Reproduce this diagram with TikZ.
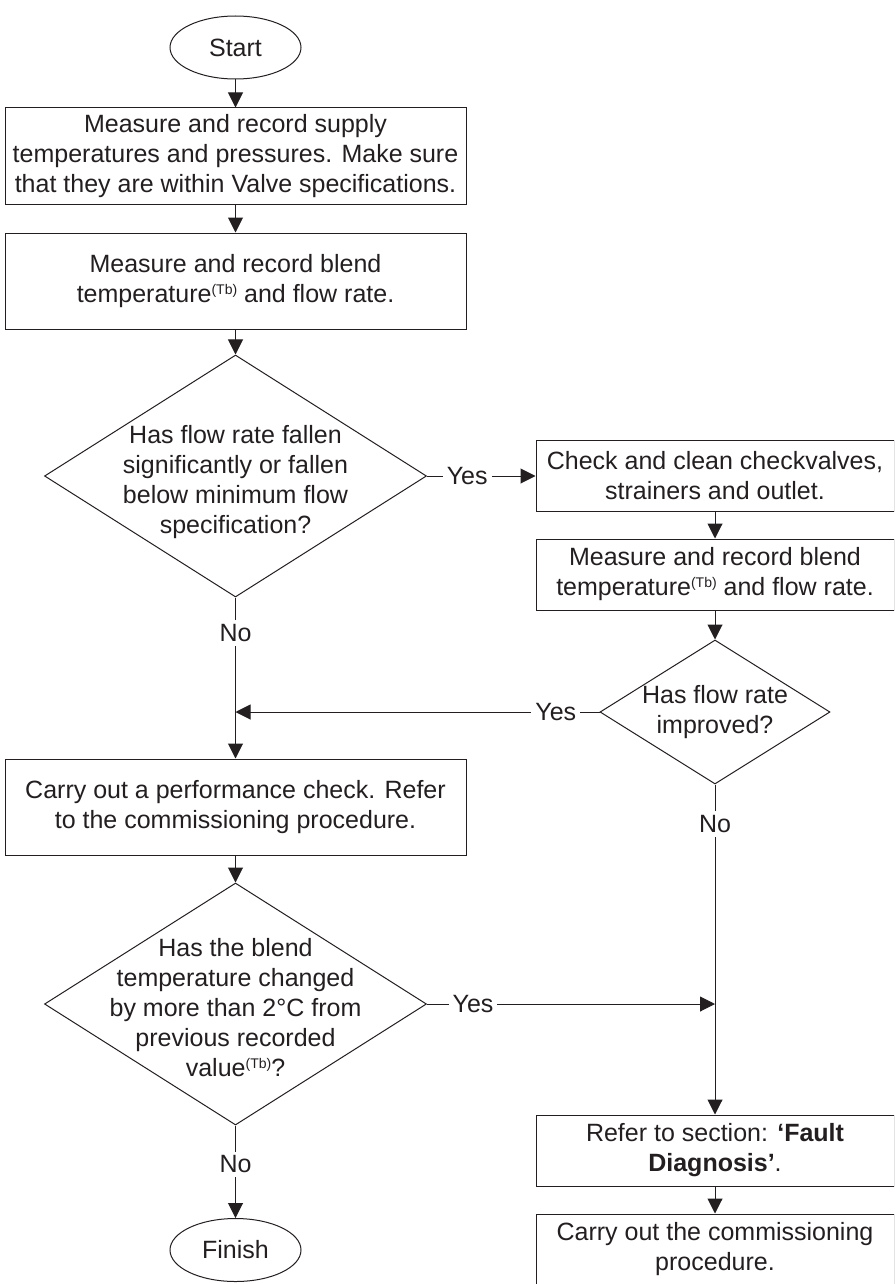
\documentclass[tikz,border=0pt]{standalone}
\usepackage{fontspec}
\setmainfont{Liberation Sans}
\usetikzlibrary{shapes.geometric}
\usetikzlibrary{arrows.meta}
\definecolor{ink}{RGB}{35,31,32}
\newcommand\tbmark{\raisebox{8pt}{\fontsize{14}{14}\selectfont(Tb)}}

\begin{document}
\begin{tikzpicture}[x=1pt,y=-1pt,color=ink,line width=1pt,
        font=\fontsize{25}{30}\selectfont,
        terminal/.style={draw,ellipse,minimum width=131pt,minimum height=63pt,inner sep=0pt},
        procbox/.style={draw,rectangle,align=center,inner sep=0pt},
        leftbox/.style={procbox,minimum width=461pt,minimum height=96pt},
        rightbox/.style={procbox,minimum width=358pt,minimum height=71pt},
        decision/.style={draw,diamond,inner sep=0pt},
        dtext/.style={align=center,inner sep=0pt},
        arr/.style={-{Triangle[length=15pt,width=15pt]}},
        yn/.style={fill=white,inner sep=4pt}]
    \useasboundingbox(0,0) rectangle (894,1284);
    \clip(0,0) rectangle (894,1284);

    % left column
    \node[terminal](start) at (235.5,47.5) {Start};
    \node[leftbox](supply) at (235.5,156) {Measure and record supply\\temperatures and pressures. Make sure\\that they are within Valve specifications.};
    \node[leftbox](blend) at (235.5,281) {Measure and record blend\\temperature\tbmark{} and flow rate.};
    \node[decision,minimum width=382pt,minimum height=242pt](fallen) at (235.5,476) {};
    \node[dtext](fallentxt) at (235.5,482) {Has flow rate fallen\\significantly or fallen\\below minimum flow\\specification?};
    \node[leftbox](perf) at (235.5,807) {Carry out a performance check. Refer\\to the commissioning procedure.};
    \node[decision,minimum width=382pt,minimum height=242pt](changed) at (235.5,1004) {};
    \node[dtext](changedtxt) at (235.5,1008) {Has the blend\\temperature changed\\by more than 2°C from\\previous recorded\\value\tbmark?};
    \node[terminal](finish) at (235.5,1250) {Finish};

    % right column
    \node[rightbox](check) at (715,476) {Check and clean checkvalves,\\strainers and outlet.};
    \node[rightbox](blendtwo) at (715,574.5) {Measure and record blend\\temperature\tbmark{} and flow rate.};
    \node[decision,minimum width=230pt,minimum height=144pt](improved) at (715,712) {};
    \node[dtext](improvedtxt) at (715,712) {Has flow rate\\improved?};
    \node[rightbox](fault) at (715,1150.5) {Refer to section: \textbf{‘Fault}\\\textbf{Diagnosis’}.};
    \node[rightbox](commission) at (715,1249.5) {Carry out the commissioning\\procedure.};

    \coordinate(joinL) at (235.5,712);
    \coordinate(joinR) at (715,1004);

    \draw[arr](start)--(supply);
    \draw[arr](supply)--(blend);
    \draw[arr](blend)--(fallen);
    \draw[arr](fallen.east)--node[yn,pos=0.37]{Yes}(check.west);
    \draw[arr](check)--(blendtwo);
    \draw[arr](blendtwo)--(improved);
    \draw[arr](improved.west)--node[yn,pos=0.12]{Yes}(joinL);
    \draw[arr](fallen.south)--node[yn,pos=0.22]{No}(perf.north);
    \draw[arr](perf)--(changed);
    \draw[arr](changed.east)--node[yn,pos=0.16]{Yes}(joinR);
    \draw[arr](changed.south)--node[yn,pos=0.42]{No}(finish.north);
    \draw[arr](improved.south)--node[yn,pos=0.12]{No}(fault.north);
    \draw[arr](fault)--(commission);
\end{tikzpicture}
\end{document}
